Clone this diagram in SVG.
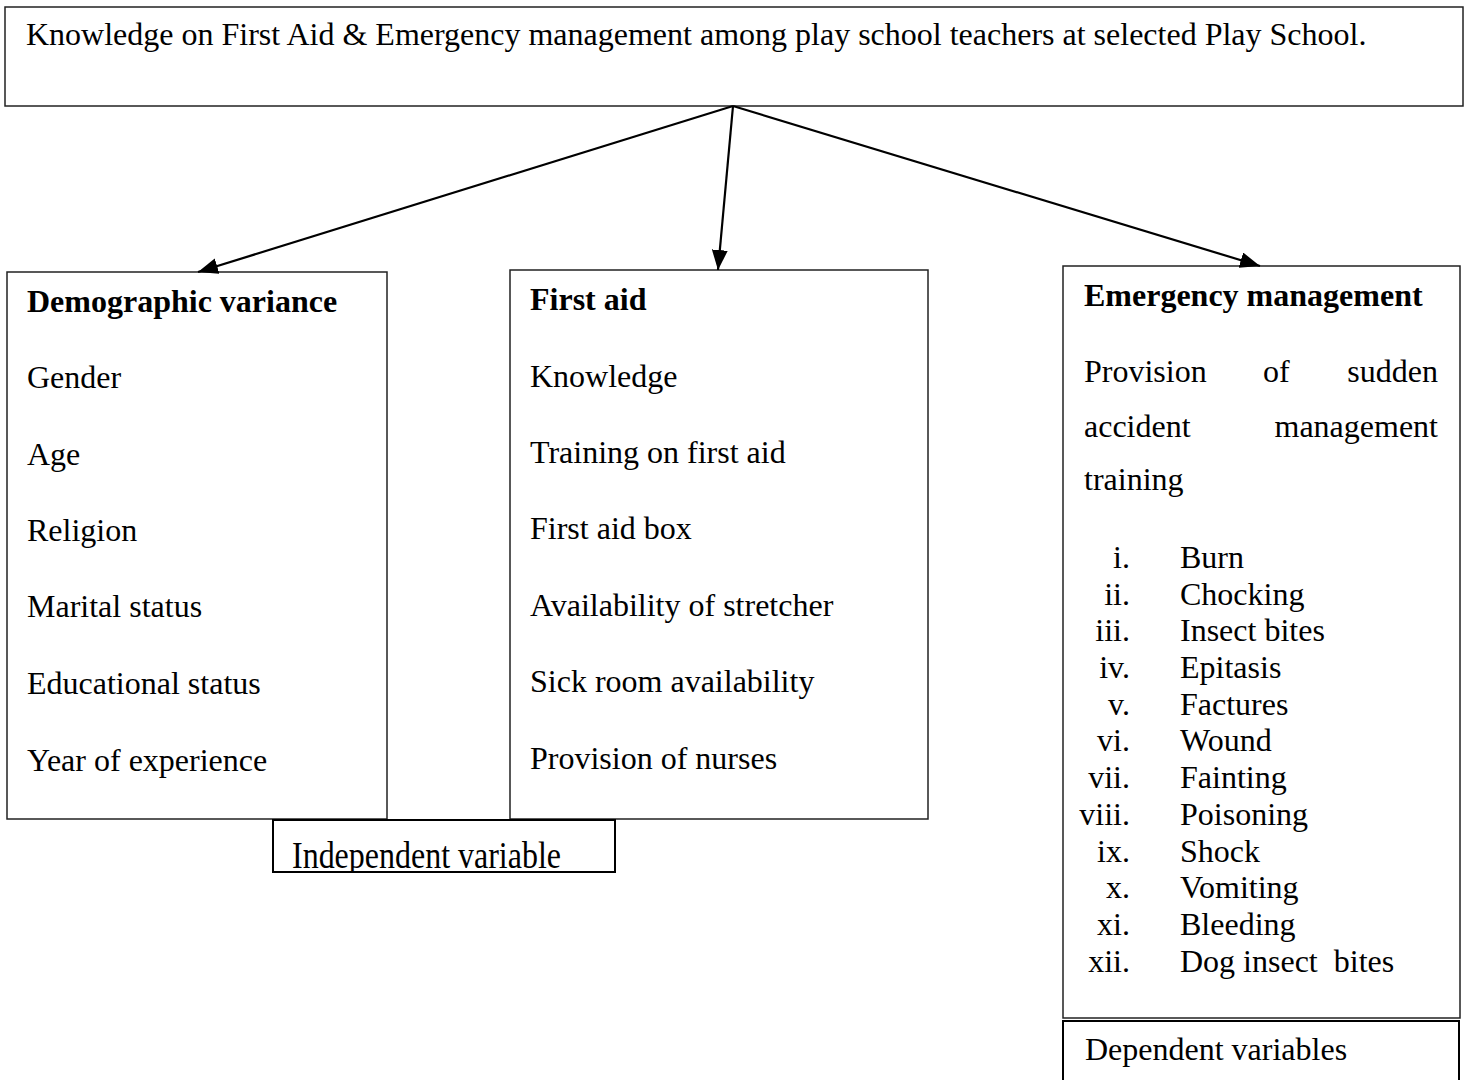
<svg xmlns="http://www.w3.org/2000/svg" width="1467" height="1080" viewBox="0 0 1467 1080">
<style>
text{font-family:"Liberation Serif","Times New Roman",serif;font-size:32px;fill:#000}
.b{font-weight:bold}
.box{fill:#fff;stroke:#222;stroke-width:1.5}
.conn{stroke:#000;stroke-width:2.2;fill:none}
.num{text-anchor:end}
</style>
<defs>
<marker id="ah" markerUnits="userSpaceOnUse" markerWidth="22" markerHeight="18" refX="20" refY="8" orient="auto">
<path d="M0,0 L20,8 L0,16 Z" fill="#000"/>
</marker>
<clipPath id="indclip"><rect x="273" y="820" width="342" height="52"/></clipPath>
</defs>
<rect width="1467" height="1080" fill="#fff"/>

<g id="title">
<rect class="box" x="5" y="7" width="1458" height="99"/>
<text x="26" y="45">Knowledge on First Aid &amp; Emergency management among play school teachers at selected Play School.</text>
</g>

<g id="demographic">
<rect class="box" x="7" y="272" width="380" height="547"/>
<text class="b" x="27" y="312">Demographic variance</text>
<text x="27" y="388">Gender</text>
<text x="27" y="465">Age</text>
<text x="27" y="541">Religion</text>
<text x="27" y="617">Marital status</text>
<text x="27" y="694">Educational status</text>
<text x="27" y="771">Year of experience</text>
</g>

<g id="firstaid">
<rect class="box" x="510" y="270" width="418" height="549"/>
<text class="b" x="530" y="310">First aid</text>
<text x="530" y="387">Knowledge</text>
<text x="530" y="463">Training on first aid</text>
<text x="530" y="539">First aid box</text>
<text x="530" y="616">Availability of stretcher</text>
<text x="530" y="692">Sick room availability</text>
<text x="530" y="769">Provision of nurses</text>
</g>

<g id="independent">
<rect class="box" x="273" y="820" width="342" height="52" style="stroke:#000;stroke-width:2"/>
<g clip-path="url(#indclip)">
<text x="292" y="868" transform="translate(0,-173.6) scale(1,1.2)" textLength="269" lengthAdjust="spacingAndGlyphs">Independent variable</text>
</g>
</g>

<g id="emergency">
<rect class="box" x="1063" y="266" width="397" height="752"/>
<text class="b" x="1084" y="306">Emergency management</text>
<text x="1084" y="382">Provision</text>
<text x="1263" y="382">of</text>
<text x="1438" y="382" text-anchor="end">sudden</text>
<text x="1084" y="437">accident</text>
<text x="1438" y="437" text-anchor="end">management</text>
<text x="1084" y="490">training</text>
<g>
<text class="num" x="1130" y="568">i.</text><text x="1180" y="568">Burn</text>
<text class="num" x="1130" y="605">ii.</text><text x="1180" y="605">Chocking</text>
<text class="num" x="1130" y="641">iii.</text><text x="1180" y="641">Insect bites</text>
<text class="num" x="1130" y="678">iv.</text><text x="1180" y="678">Epitasis</text>
<text class="num" x="1130" y="715">v.</text><text x="1180" y="715">Factures</text>
<text class="num" x="1130" y="751">vi.</text><text x="1180" y="751">Wound</text>
<text class="num" x="1130" y="788">vii.</text><text x="1180" y="788">Fainting</text>
<text class="num" x="1130" y="825">viii.</text><text x="1180" y="825">Poisoning</text>
<text class="num" x="1130" y="862">ix.</text><text x="1180" y="862">Shock</text>
<text class="num" x="1130" y="898">x.</text><text x="1180" y="898">Vomiting</text>
<text class="num" x="1130" y="935">xi.</text><text x="1180" y="935">Bleeding</text>
<text class="num" x="1130" y="972">xii.</text><text x="1180" y="972" xml:space="preserve">Dog insect  bites</text>
</g>
</g>

<g id="dependent">
<rect class="box" x="1063" y="1021" width="396" height="75" style="stroke:#000;stroke-width:2"/>
<text x="1085" y="1060">Dependent variables</text>
</g>

<g id="connectors">
<line class="conn" x1="733" y1="106" x2="198" y2="272" marker-end="url(#ah)"/>
<line class="conn" x1="733" y1="106" x2="718" y2="270" marker-end="url(#ah)"/>
<line class="conn" x1="733" y1="106" x2="1260" y2="266" marker-end="url(#ah)"/>
</g>
</svg>
